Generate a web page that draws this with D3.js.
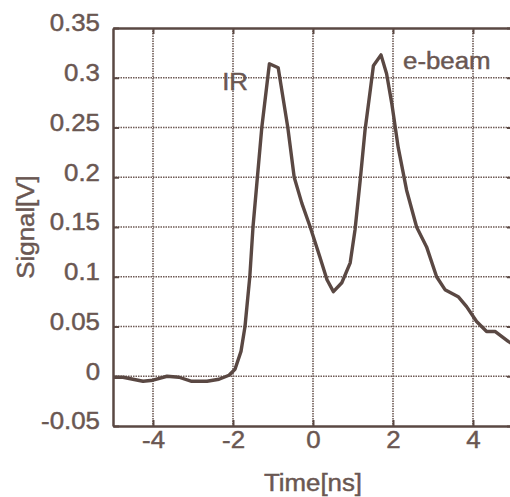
<!DOCTYPE html>
<html><head><meta charset="utf-8">
<script src="https://cdn.jsdelivr.net/npm/d3@7"></script>
<style>body{margin:0;background:#fff;}svg{display:block;}</style>
</head><body>
<script>
const time = [-5,-4.75,-4.5,-4.25,-4,-3.65,-3.35,-3.05,-2.65,-2.35,-2.1,-1.95,-1.8,-1.7,-1.58,-1.5,-1.39,-1.28,-1.09,-0.87,-0.63,-0.47,-0.28,-0.07,0.17,0.35,0.51,0.72,0.93,1.05,1.18,1.3,1.43,1.51,1.7,1.84,1.97,2.13,2.34,2.59,2.84,3.09,3.3,3.63,3.84,4.09,4.34,4.55,4.88,5.0];
const signal = [-0.001,-0.001,-0.003,-0.005,-0.004,0,-0.001,-0.005,-0.005,-0.003,0.001,0.007,0.025,0.05,0.1,0.15,0.2,0.25,0.314,0.31,0.25,0.2,0.174,0.15,0.12,0.097,0.085,0.094,0.114,0.147,0.197,0.247,0.287,0.312,0.323,0.304,0.274,0.23,0.187,0.15,0.13,0.1,0.087,0.08,0.07,0.055,0.045,0.045,0.035,0.032];
const xTicks = [-4,-2,0,2,4];
const xTickLabels = ["-4","-2","0","2","4"];
const yTicks = [-0.05,0,0.05,0.1,0.15,0.2,0.25,0.3,0.35];
const yTickLabels = ["-0.05","0","0.05","0.1","0.15","0.2","0.25","0.3","0.35"];
const annotations = [{text:"IR", t:-2.27, v:0.288}, {text:"e-beam", t:2.25, v:0.309}];

const W=510,H=497;
const m={left:113,right:-3,top:28,bottom:71};
const textCol="#6a5752", lineCol="#5a4843", gridCol="#6e5b56";
const svg=d3.select("body").append("svg").attr("width",W).attr("height",H);
const x=d3.scaleLinear().domain([-5,5]).range([m.left,W-m.right]);
const y=d3.scaleLinear().domain([-0.05,0.35]).range([H-m.bottom,m.top]);
const font="'Liberation Sans', Arial, sans-serif";
const stretch=1.1;
function widen(sel){ sel.each(function(){ const L=this.getComputedTextLength(); d3.select(this).attr("textLength",L*stretch).attr("lengthAdjust","spacingAndGlyphs"); }); }
function ink(sel){ sel.attr("fill",textCol).attr("stroke",textCol).attr("stroke-width",0.45).attr("font-family",font).attr("font-size",23.5); }

// grid
const g=svg.append("g");
g.selectAll(".vg").data(xTicks).enter().append("line")
 .attr("x1",d=>x(d)).attr("x2",d=>x(d)).attr("y1",y(0.35)).attr("y2",y(-0.05))
 .attr("stroke",gridCol).attr("stroke-width",1.6).attr("stroke-dasharray","1.5,1");
g.selectAll(".hg").data(yTicks.filter(v=>v>-0.04&&v<0.34)).enter().append("line")
 .attr("y1",d=>y(d)).attr("y2",d=>y(d)).attr("x1",x(-5)).attr("x2",x(5))
 .attr("stroke",gridCol).attr("stroke-width",1.6).attr("stroke-dasharray","1.5,1");

// axes
const ax=svg.append("g").attr("transform",`translate(0,${y(-0.05)})`)
 .call(d3.axisBottom(x).tickValues(xTicks).tickSizeInner(-6).tickSizeOuter(0).tickPadding(5).tickFormat((d,i)=>xTickLabels[i]));
const axT=svg.append("g").attr("transform",`translate(0,${y(0.35)})`)
 .call(d3.axisTop(x).tickValues(xTicks).tickSizeInner(-6).tickSizeOuter(0).tickFormat(""));
const ay=svg.append("g").attr("transform",`translate(${x(-5)},0)`)
 .call(d3.axisLeft(y).tickValues(yTicks).tickSizeInner(-6).tickSizeOuter(0).tickPadding(13).tickFormat((d,i)=>yTickLabels[i]));
const ayR=svg.append("g").attr("transform",`translate(${x(5)},0)`)
 .call(d3.axisRight(y).tickValues(yTicks).tickSizeInner(-6).tickSizeOuter(0).tickFormat(""));
[ax,axT,ay,ayR].forEach(a=>{
 a.select(".domain").attr("stroke",lineCol).attr("stroke-width",2.5);
 a.selectAll(".tick line").attr("stroke",lineCol).attr("stroke-width",2);
 a.selectAll("text").call(ink);
});
ax.selectAll(".tick text").attr("dy","0.71em").call(widen);
ay.selectAll(".tick text").attr("dy","0.12em").call(widen);

// line
svg.append("path").datum(time.map((t,i)=>[t,signal[i]]))
 .attr("fill","none").attr("stroke",lineCol).attr("stroke-width",3.4).attr("stroke-linejoin","round")
 .attr("d",d3.line().x(d=>x(d[0])).y(d=>y(d[1])));

// annotations
svg.selectAll(".ann").data(annotations).enter().append("text")
 .attr("x",d=>x(d.t)).attr("y",d=>y(d.v)).text(d=>d.text).call(ink).call(widen);

// axis titles
svg.append("text").attr("x",x(0)).attr("y",491).attr("text-anchor","middle")
 .text("Time[ns]").call(ink).call(widen);
svg.append("text").attr("transform",`translate(34,${(y(0.35)+y(-0.05))/2}) rotate(-90)`).attr("text-anchor","middle")
 .text("Signal[V]").call(ink).call(widen);
</script>
</body></html>
